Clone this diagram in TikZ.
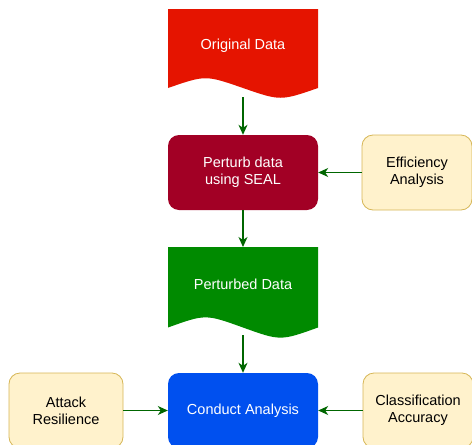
\documentclass[tikz,border=0pt]{standalone}
\usepackage{fontspec}
\setmainfont{Liberation Sans}
\usetikzlibrary{arrows.meta}
\definecolor{docred}{HTML}{E51400}
\definecolor{wine}{HTML}{A20025}
\definecolor{docgreen}{HTML}{008A00}
\definecolor{cobalt}{HTML}{0050EF}
\definecolor{notefill}{HTML}{FFF2CC}
\definecolor{notedraw}{HTML}{D6B656}
\definecolor{arrowgreen}{HTML}{006600}
\tikzset{
  procbox/.style={rounded corners=11pt, minimum width=150pt, minimum height=75pt, inner sep=0pt, align=center, font=\fontsize{14.5}{17}\selectfont, text=white},
  notebox/.style={rounded corners=11pt, minimum width=110pt, minimum height=75pt, inner sep=0pt, align=center, font=\fontsize{14.5}{17}\selectfont, text=black, fill=notefill, draw=notedraw, line width=0.8pt},
  doctext/.style={align=center, font=\fontsize{14.5}{17}\selectfont, text=white},
  flow/.style={draw=arrowgreen, line width=1.2pt, -{Stealth[length=10pt,width=9pt,inset=3pt]}}
}
\begin{document}
\begin{tikzpicture}[x=1pt,y=-1pt]
\useasboundingbox (0,0) rectangle (472,445);
% Original Data document shape
\fill[docred] (168,9) -- (318,9) -- (318,88) .. controls (280.5,101) .. (243,88) .. controls (205.5,75) .. (168,88) -- cycle;
\node[doctext] (orig) at (243,46) {Original Data};
\coordinate (origout) at (243,97);
% Perturb
\node[procbox, fill=wine] (perturb) at (243,172.5) {Perturb data\\using SEAL};
% Efficiency
\node[notebox] (eff) at (417,172.5) {Efficiency\\Analysis};
% Perturbed Data document shape
\fill[docgreen] (168,247) -- (318,247) -- (318,327.5) .. controls (280.5,341) .. (243,327.5) .. controls (205.5,314) .. (168,327.5) -- cycle;
\node[doctext] (pdata) at (243,284) {Perturbed Data};
\coordinate (pdataout) at (243,335);
% Conduct Analysis
\node[procbox, fill=cobalt] (conduct) at (243,410.5) {Conduct Analysis};
% Attack Resilience
\node[notebox, minimum width=114pt] (attack) at (66,410.5) {Attack\\Resilience};
% Classification Accuracy
\node[notebox] (class) at (418,410.5) {Classification\\Accuracy};
% connectors
\draw[flow] (origout) -- (perturb.north);
\draw[flow] (eff.west) -- (perturb.east);
\draw[flow] (perturb.south) -- (243,247);
\draw[flow] (pdataout) -- (conduct.north);
\draw[flow] (attack.east) -- (conduct.west);
\draw[flow] (class.west) -- (conduct.east);
\end{tikzpicture}
\end{document}
